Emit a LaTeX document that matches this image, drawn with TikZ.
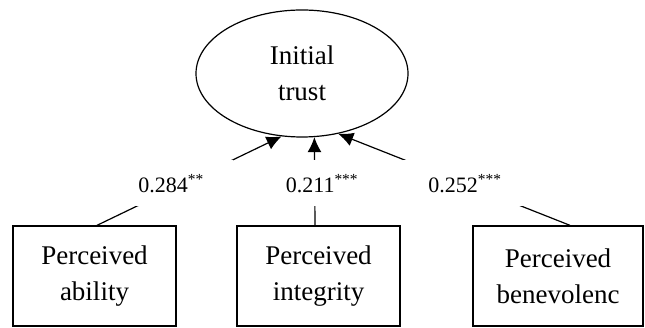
\documentclass[tikz,border=0pt]{standalone}
\usepackage{fontspec}
\setmainfont{Liberation Serif}
\usepackage{tikz}
\usetikzlibrary{arrows.meta,positioning,shapes.geometric}
\tikzset{
  construct/.style={
    ellipse,
    draw=black,
    fill=white,
    line width=1.2pt,
    minimum width=212pt,
    minimum height=127pt,
    inner sep=0pt,
    align=center,
    font=\fontsize{27}{36}\selectfont
  }
}
\tikzset{
  factor/.style={
    rectangle,
    draw=black,
    fill=white,
    line width=1.3pt,
    minimum width=163pt,
    minimum height=100pt,
    inner sep=0pt,
    align=center,
    font=\fontsize{27}{36}\selectfont
  }
}
\tikzset{
  path coef/.style={
    fill=white,
    minimum width=124pt,
    minimum height=46pt,
    inner sep=0pt,
    font=\fontsize{22}{26}\selectfont
  }
}
\tikzset{
  relation/.style={
    -{Latex[length=15pt,width=14pt]},
    draw=black,
    line width=1.2pt
  }
}

\begin{document}
\begin{tikzpicture}[x=1pt,y=1pt]

    \useasboundingbox (0,0) rectangle (645,328);

    % ------------------------------------------------------------
    % Nodes
    % ------------------------------------------------------------

    \node[construct] (trust) at (302,254.5)
    {
      Initial\\
      trust
    };

    \node[factor] (ability) at (94.5,52)
    {
      Perceived\\
      ability
    };

    \node[factor] (integrity) at (318.5,52)
    {
      Perceived\\
      integrity
    };

    \node[factor,minimum width=170pt] (benevolence) at (558,52)
    {
      Perceived\\
      benevolenc
    };

    % ------------------------------------------------------------
    % Edges
    % ------------------------------------------------------------

    \draw[relation]
      ([xshift=2.5pt]ability.north)
      --
      (trust.252);

    \draw[relation]
      ([xshift=-3.5pt]integrity.north)
      --
      (trust.281.6);

    \draw[relation]
      ([xshift=12pt]benevolence.north)
      --
      (trust.301.7);

    % ------------------------------------------------------------
    % Coefficients
    % ------------------------------------------------------------

    \node[path coef] (c1) at (171,144.5) {0.284\textsuperscript{**}};
    \node[path coef] (c2) at (322,144.5) {0.211\textsuperscript{***}};
    \node[path coef] (c3) at (465,144.5) {0.252\textsuperscript{***}};

\end{tikzpicture}
\end{document}
